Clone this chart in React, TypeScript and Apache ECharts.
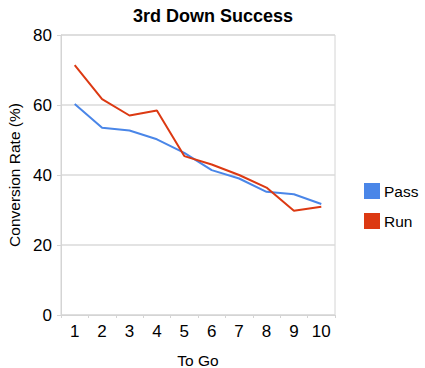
import React, { useEffect, useRef } from "react";
import * as echarts from "echarts";

const categories = ["1", "2", "3", "4", "5", "6", "7", "8", "9", "10"];
const passValues = [60.3, 53.5, 52.7, 50.2, 46.3, 41.4, 39.0, 35.2, 34.5, 31.7];
const runValues = [71.4, 61.7, 57.0, 58.4, 45.4, 43.0, 40.0, 36.4, 29.8, 30.9];
const yTicks = { min: 0, max: 80, interval: 20 };

const FONT = "Liberation Sans, Arial, sans-serif";

export default function App() {
  const ref = useRef<HTMLDivElement>(null);
  useEffect(() => {
    if (!ref.current) return;
    const chart = echarts.init(ref.current, null, { renderer: "svg" });
    chart.setOption({
      animation: false,
      backgroundColor: "#ffffff",
      title: {
        text: "3rd Down Success",
        left: 208,
        textAlign: "center",
        top: 2,
        textStyle: { fontFamily: FONT, fontSize: 18, fontWeight: "bold", color: "#000" },
      },
      legend: {
        orient: "vertical",
        left: 359,
        top: 178,
        itemWidth: 16,
        itemHeight: 16,
        itemGap: 14,
        icon: "rect",
        textStyle: { fontFamily: FONT, fontSize: 15.5, color: "#000", padding: [0, 0, 0, -1] },
        data: ["Pass", "Run"],
      },
      grid: {
        left: 61,
        right: 90,
        top: 35,
        bottom: 53,
        show: true,
        borderColor: "#d4d4d4",
        borderWidth: 1,
        containLabel: false,
        outerBoundsMode: "none",
      },
      xAxis: {
        type: "category",
        data: categories,
        boundaryGap: true,
        name: "To Go",
        nameLocation: "middle",
        nameGap: 37,
        nameTextStyle: { fontFamily: FONT, fontSize: 15.5, color: "#000" },
        axisLine: { show: true, lineStyle: { color: "#d4d4d4" } },
        axisTick: { show: true, length: 3, lineStyle: { color: "#d4d4d4" } },
        axisLabel: { fontFamily: FONT, fontSize: 17, color: "#000", margin: 8 },
      },
      yAxis: {
        type: "value",
        min: yTicks.min,
        max: yTicks.max,
        interval: yTicks.interval,
        name: "Conversion Rate (%)",
        nameLocation: "middle",
        nameGap: 38,
        nameTextStyle: { fontFamily: FONT, fontSize: 15.5, color: "#000" },
        axisLine: { show: true, lineStyle: { color: "#d4d4d4" } },
        axisTick: { show: true, length: 4, lineStyle: { color: "#d4d4d4" } },
        axisLabel: { fontFamily: FONT, fontSize: 17, color: "#000", margin: 9 },
        splitLine: { show: true, lineStyle: { color: "#dadada", width: 1.5 } },
      },
      series: [
        {
          name: "Pass",
          type: "line",
          data: passValues,
          showSymbol: false,
          symbol: "none",
          itemStyle: { color: "#4a86e8" },
          lineStyle: { color: "#4a86e8", width: 2 },
        },
        {
          name: "Run",
          type: "line",
          data: runValues,
          showSymbol: false,
          symbol: "none",
          itemStyle: { color: "#dc3912" },
          lineStyle: { color: "#dc3912", width: 2 },
        },
      ],
    });
    return () => chart.dispose();
  }, []);
  return <div ref={ref} style={{ width: 425, height: 368, position: "absolute", left: 0, top: 0 }} />;
}
